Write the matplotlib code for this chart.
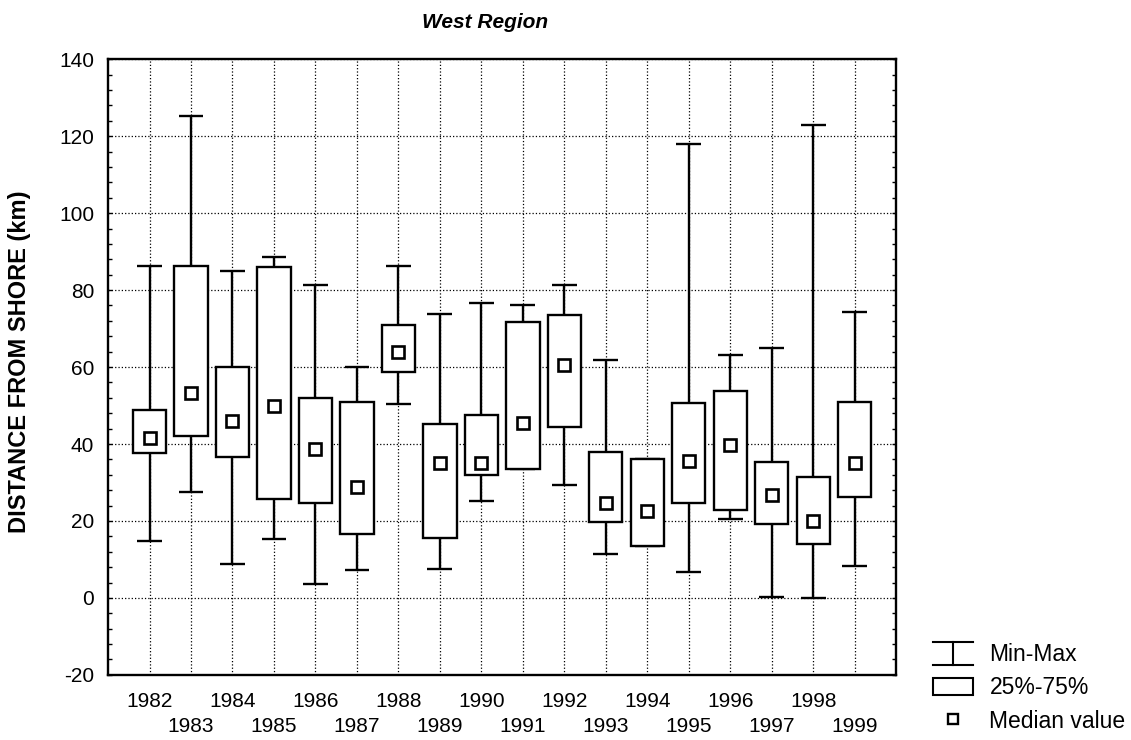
import numpy as np
import matplotlib
matplotlib.use("Agg")
from matplotlib import pyplot as plt
from matplotlib.patches import Rectangle
from matplotlib.lines import Line2D
from matplotlib.legend_handler import HandlerBase

plt.rcParams['font.family'] = ['Liberation Sans', 'DejaVu Sans']
plt.rcParams['axes.unicode_minus'] = False

# values
years = [1982, 1983, 1984, 1985, 1986, 1987, 1988, 1989, 1990,
         1991, 1992, 1993, 1994, 1995, 1996, 1997, 1998, 1999]
mins = [14.7, 27.4, 8.9, 15.3, 3.6, 7.3, 50.3, 7.4, 25.3,
        33.4, 29.3, 11.3, 13.6, 6.8, 20.5, 0.2, 0.0, 8.2]
q25 = [37.6, 42.2, 36.5, 25.6, 24.6, 16.6, 58.8, 15.5, 31.9,
       33.4, 44.5, 19.8, 13.6, 24.6, 22.9, 19.3, 13.9, 26.2]
medians = [41.5, 53.2, 46.1, 50.0, 38.6, 28.9, 64.0, 35.0, 35.1,
           45.5, 60.5, 24.6, 22.7, 35.6, 39.7, 26.7, 19.9, 35.0]
q75 = [48.8, 86.3, 60.1, 86.0, 51.9, 50.8, 70.9, 45.2, 47.6,
       71.8, 73.5, 37.8, 36.0, 50.7, 53.9, 35.2, 31.4, 51.0]
maxs = [86.2, 125.2, 85.0, 88.7, 81.3, 59.9, 86.3, 73.9, 76.6,
        76.1, 81.4, 61.8, 36.0, 117.9, 63.0, 64.9, 122.9, 74.3]

pos = np.arange(len(years))
q25 = np.array(q25)
q75 = np.array(q75)

fig = plt.figure(figsize=(11.31, 7.40), dpi=100)
ax = fig.add_axes([0.0955, 0.088, 0.697, 0.832])

lw = 1.7
ax.vlines(pos, mins, q25, color='black', lw=lw, zorder=3)
ax.vlines(pos, q75, maxs, color='black', lw=lw, zorder=3)
ax.hlines(mins, pos - 0.3, pos + 0.3, color='black', lw=lw, zorder=3)
ax.hlines(maxs, pos - 0.3, pos + 0.3, color='black', lw=lw, zorder=3)
ax.bar(pos, q75 - q25, bottom=q25, width=0.8, facecolor='white',
       edgecolor='black', linewidth=lw, zorder=4)
ax.plot(pos, medians, 's', ms=8, mfc='white', mec='black', mew=1.9,
        ls='none', zorder=5)

ax.set_xlim(-1, len(years))
ax.set_ylim(-20, 140)
ax.set_yticks(np.arange(-20, 141, 20))
ax.set_yticks(np.arange(-20, 141, 4), minor=True)
# even years on the first row, odd years on the second
ax.set_xticks(pos[::2])
ax.set_xticklabels([str(y) for y in years[::2]], fontsize=15)
ax.set_xticks(pos[1::2], minor=True)
ax.set_xticklabels([str(y) for y in years[1::2]], minor=True, fontsize=15)
ax.tick_params(axis='x', which='major', length=0, pad=12)
ax.tick_params(axis='x', which='minor', length=0, pad=30)
ax.tick_params(axis='y', which='both', direction='in', length=3, width=1,
               right=True, labelsize=15, pad=10)
ax.xaxis.grid(True, which='both', ls=':', color='black', lw=0.9)
ax.yaxis.grid(True, which='major', ls=':', color='black', lw=0.9)
ax.set_axisbelow(True)
for s in ax.spines.values():
    s.set_linewidth(1.7)

fig.text(20 / 1131, 1 - 362 / 740, 'DISTANCE FROM SHORE (km)', rotation=90,
         ha='center', va='center', fontsize=17, fontweight='bold')
fig.text(485 / 1131, 1 - 22 / 740, 'West Region', ha='center', va='center',
         fontsize=15, fontweight='bold', style='italic')


class MinMaxHandler(HandlerBase):
    def create_artists(self, legend, orig_handle, xdescent, ydescent,
                       width, height, fontsize, trans):
        x0, x1 = -xdescent, -xdescent + width
        y0, y1 = -ydescent - 2, -ydescent + height + 2
        xm = (x0 + x1) / 2
        arts = [Line2D([x0, x1], [y1, y1]), Line2D([x0, x1], [y0, y0]),
                Line2D([xm, xm], [y0, y1])]
        for a in arts:
            a.set_color('black')
            a.set_linewidth(1.5)
            a.set_transform(trans)
        return arts


mm = Line2D([], [])
box = Rectangle((0, 0), 1, 1, facecolor='white', edgecolor='black', lw=1.5)
med = Line2D([], [], marker='s', ls='none', ms=7, mfc='white', mec='black',
             mew=1.7)
fig.legend([mm, box, med], ['Min-Max', '25%-75%', 'Median value'],
           handler_map={mm: MinMaxHandler()}, loc='lower left',
           bbox_to_anchor=(0.807, -0.018), frameon=False, fontsize=16.5,
           handlelength=1.75, handleheight=0.8, labelspacing=0.45,
           handletextpad=0.7)

fig.savefig('out.png', dpi=100)
